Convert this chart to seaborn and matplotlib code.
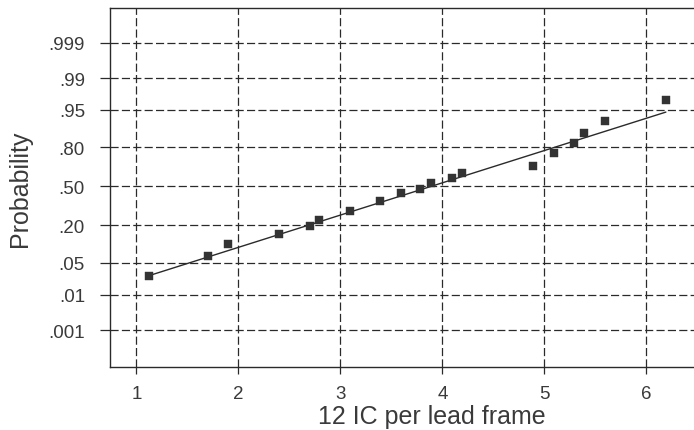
import matplotlib
matplotlib.use("Agg")
import matplotlib.pyplot as plt
import numpy as np
import pandas as pd
import seaborn as sns
from statistics import NormalDist

# ---- data ----
x_values = [1.12, 1.70, 1.90, 2.40, 2.70, 2.79, 3.09, 3.39, 3.59, 3.78,
            3.89, 4.09, 4.19, 4.89, 5.09, 5.29, 5.39, 5.59, 6.19]
prob_values = [0.0265, 0.068, 0.109, 0.154, 0.195, 0.233, 0.300, 0.379, 0.441, 0.480,
               0.531, 0.574, 0.613, 0.672, 0.761, 0.826, 0.874, 0.921, 0.969]
fit_mean = 3.89
fit_sd = 1.44
prob_ticks = [0.001, 0.01, 0.05, 0.20, 0.50, 0.80, 0.95, 0.99, 0.999]
prob_tick_labels = [".001", ".01", ".05", ".20", ".50", ".80", ".95", ".99", ".999"]
x_ticks = [1, 2, 3, 4, 5, 6]
x_label = "12 IC per lead frame"
y_label = "Probability"

nd = NormalDist()
df = pd.DataFrame({"x": x_values, "z": [nd.inv_cdf(p) for p in prob_values]})
fit_x = [min(x_values), max(x_values)]
fit_df = pd.DataFrame({"x": fit_x, "z": [(v - fit_mean) / fit_sd for v in fit_x]})

sns.set_theme(style="white")
plt.rcParams["font.family"] = ["Liberation Sans", "DejaVu Sans"]
ink = "#2a2a2a"
txt = "#3a3a3a"

fig = plt.figure(figsize=(6.94, 4.31), dpi=100)
ax = fig.add_axes([110 / 694, 1 - 368.3 / 431, (753 - 110) / 694, (368.3 - 9) / 431])

sns.lineplot(data=fit_df, x="x", y="z", ax=ax, color=ink, linewidth=1.0, zorder=3)
sns.scatterplot(data=df, x="x", y="z", ax=ax, marker="s", s=26, color="#333333",
                edgecolor="#333333", linewidth=0.3, zorder=4)

ax.set_xlim(0.742, 7.044)
ax.set_ylim(-3.892, 3.836)
ax.set_xticks(x_ticks)
ax.set_xticklabels([str(t) for t in x_ticks])
ax.set_yticks([nd.inv_cdf(p) for p in prob_ticks])
ax.set_yticklabels(prob_tick_labels)

ax.grid(True, color=ink, linestyle=(0, (6.5, 2.6)), linewidth=0.9)
ax.set_axisbelow(True)

for side in ["left", "top", "bottom"]:
    ax.spines[side].set_visible(True)
    ax.spines[side].set_color(ink)
    ax.spines[side].set_linewidth(1.0)
ax.spines["right"].set_visible(False)

ax.tick_params(axis="y", direction="out", length=7.2, width=0.9, color=ink,
               pad=10.8, labelsize=13.5, labelcolor=txt, left=True)
ax.tick_params(axis="x", direction="out", length=5, width=0.9, color=ink,
               pad=7.5, labelsize=13.5, labelcolor=txt, bottom=True)

ax.set_xlabel(x_label, fontsize=18, color=txt, labelpad=1.5)
ax.set_ylabel(y_label, fontsize=18, color=txt, labelpad=12)

fig.savefig("out.png", dpi=100)
